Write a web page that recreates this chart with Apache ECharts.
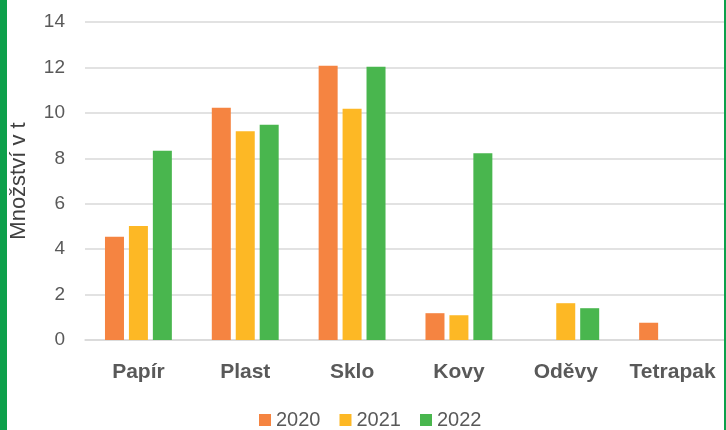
<!DOCTYPE html>
<html><head><meta charset="utf-8">
<script src="https://cdn.jsdelivr.net/npm/echarts@6/dist/echarts.min.js"></script>
<style>
html,body{margin:0;padding:0;background:#fff;}
#c{position:absolute;left:0;top:0;width:726px;height:430px;}
.bl{position:absolute;left:0;top:0;width:7px;height:430px;background:#0DA04B;z-index:5;}
.br{position:absolute;left:724px;top:0;width:2px;height:430px;background:#0DA04B;z-index:5;}
</style></head>
<body>
<div id="c"></div><div class="bl"></div><div class="br"></div>
<script>
const categories = ['Papír','Plast','Sklo','Kovy','Oděvy','Tetrapak'];
const years = ['2020','2021','2022'];
const v2020 = [4.55, 10.23, 12.07, 1.18, null, 0.76];
const v2021 = [5.02, 9.19, 10.18, 1.09, 1.62, null];
const v2022 = [8.33, 9.48, 12.03, 8.22, 1.40, null];
const yTicks = [0, 2, 4, 6, 8, 10, 12, 14];
const colors = ['#F58441', '#FDB825', '#49B64E'];
const font = 'Liberation Sans';
const chart = echarts.init(document.getElementById('c'));
const mk = (name, data, i) => ({
  name, type: 'bar', data, barWidth: 19, barGap: '26%',
  itemStyle: { color: colors[i] }
});
chart.setOption({
  animation: false,
  textStyle: { fontFamily: font },
  grid: { left: 83, top: 22, width: 650, height: 318, containLabel: false },
  legend: {
    data: years, left: 259, top: 410, padding: 0, itemWidth: 12, itemHeight: 12, itemGap: 19,
    icon: 'rect',
    textStyle: { fontFamily: font, fontSize: 20, color: '#595959', padding: [0, 0, 0, 0] }
  },
  xAxis: {
    type: 'category', data: categories,
    axisLine: { lineStyle: { color: '#d9d9d9', width: 1.5 } },
    axisTick: { show: false },
    axisLabel: { fontFamily: font, fontSize: 21, fontWeight: 'bold', color: '#595959', margin: 22, interval: 0 }
  },
  yAxis: {
    type: 'value', min: yTicks[0], max: yTicks[yTicks.length - 1], interval: 2,
    name: 'Množství v t', nameLocation: 'middle', nameGap: 55,
    nameTextStyle: { fontFamily: font, fontSize: 22, color: '#404040' },
    axisLine: { show: false }, axisTick: { show: false },
    splitLine: { lineStyle: { color: '#d9d9d9', width: 1.5 } },
    axisLabel: { fontFamily: font, fontSize: 19, color: '#595959', margin: 20 }
  },
  series: [mk(years[0], v2020, 0), mk(years[1], v2021, 1), mk(years[2], v2022, 2)]
});
</script>
</body></html>
